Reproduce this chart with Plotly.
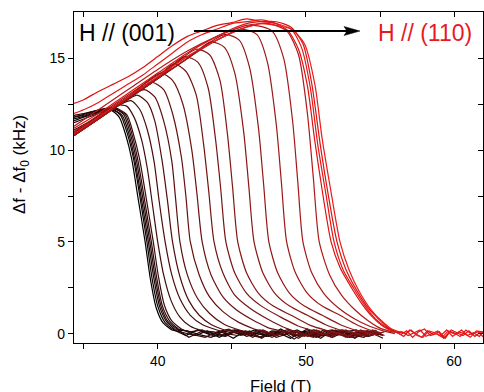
import plotly.graph_objects as go

# ---------------- data ----------------
# Each curve: key points (field in T, delta f in kHz) + baseline tail values
h01 = [34.35, 35.0, 36.0, 36.8, 37.4, 37.85, 38.25, 38.65, 39.15, 39.5, 39.9, 40.35, 40.95]
d01 = [11.7, 11.85, 12.1, 12.2, 11.8, 10.8, 9.5, 7.5, 5.0, 3.0, 1.4, 0.6, 0.2]
t01 = [0.05, -0.1, 0.15, -0.2, 0.1, -0.05, 0.2, -0.15, 0.05, -0.25, 0.1, 0.2, -0.1, 0.05, -0.2, 0.15, -0.05, 0.1]

h02 = [34.35, 35.0, 36.0, 36.9, 37.5, 37.95, 38.35, 38.77, 39.27, 39.62, 40.02, 40.5, 41.1]
d02 = [11.9, 12.0, 12.15, 12.25, 11.9, 10.9, 9.6, 7.6, 5.0, 3.0, 1.45, 0.6, 0.2]
t02 = [-0.1, 0.2, -0.05, 0.1, -0.25, 0.15, 0.0, -0.15, 0.25, -0.1, 0.05, -0.2, 0.1, 0.15, -0.05, -0.2, 0.2, -0.1]

h03 = [34.35, 35.0, 36.0, 36.9, 37.6, 38.05, 38.45, 38.87, 39.37, 39.72, 40.12, 40.6, 41.2]
d03 = [11.6, 11.8, 12.05, 12.2, 11.9, 10.9, 9.5, 7.5, 5.0, 3.1, 1.5, 0.65, 0.2]
t03 = [0.15, -0.05, -0.2, 0.1, 0.2, -0.15, 0.05, -0.1, 0.15, -0.3, 0.1, 0.0, -0.15, 0.2, -0.1, 0.05, 0.15, -0.2]

h04 = [34.35, 35.0, 36.0, 37.0, 37.7, 38.15, 38.55, 38.97, 39.47, 39.82, 40.22, 40.7, 41.3]
d04 = [11.8, 11.95, 12.2, 12.3, 11.95, 10.9, 9.5, 7.5, 5.0, 3.1, 1.5, 0.65, 0.25]
t04 = [-0.2, 0.1, 0.05, -0.15, 0.2, -0.05, -0.2, 0.15, 0.1, -0.1, 0.25, -0.15, 0.0, 0.1, -0.25, 0.15, -0.05, 0.1]

h05 = [34.35, 35.0, 36.0, 37.0, 37.8, 38.25, 38.65, 39.07, 39.57, 39.92, 40.32, 40.8, 41.4]
d05 = [11.5, 11.7, 12.0, 12.25, 11.95, 10.9, 9.5, 7.5, 5.0, 3.1, 1.5, 0.7, 0.25]
t05 = [0.1, 0.2, -0.15, 0.0, -0.1, 0.15, -0.25, 0.1, -0.05, 0.2, -0.1, 0.05, -0.2, 0.1, 0.2, -0.15, 0.05, -0.05]

h06 = [34.35, 35.0, 36.0, 37.1, 37.9, 38.35, 38.78, 39.2, 39.7, 40.05, 40.45, 40.95, 41.6]
d06 = [11.8, 11.9, 12.15, 12.3, 11.95, 10.9, 9.5, 7.5, 5.0, 3.1, 1.55, 0.7, 0.25]
t06 = [-0.05, -0.2, 0.1, 0.25, -0.1, 0.05, 0.15, -0.2, 0.0, 0.1, -0.15, 0.2, -0.05, -0.1, 0.15, 0.05, -0.25, 0.1]

h07 = [34.35, 35.5, 36.5, 37.3, 37.9, 38.4, 38.9, 39.3, 39.65, 40.0, 40.4, 40.9, 41.5, 42.2, 43.0]
d07 = [11.1, 11.6, 12.1, 12.45, 12.4, 11.8, 10.6, 9.0, 7.0, 5.0, 3.2, 1.8, 0.9, 0.4, 0.15]
t07 = [0.1, -0.15, 0.2, 0.0, -0.2, 0.1, 0.15, -0.1, 0.05, -0.25, 0.2, -0.05, 0.1, -0.15, 0.05]

h08 = [34.35, 35.5, 36.5, 37.5, 38.2, 38.8, 39.3, 39.75, 40.1, 40.5, 40.95, 41.5, 42.2, 43.0, 44.0]
d08 = [11.0, 11.5, 12.0, 12.5, 12.7, 12.2, 11.1, 9.4, 7.2, 5.0, 3.2, 1.9, 1.0, 0.5, 0.2]
t08 = [0.0, 0.15, -0.2, 0.1, -0.05, 0.25, -0.15, 0.05, -0.1, 0.2, -0.2, 0.1, 0.05, -0.1]

h09 = [34.35, 36.0, 37.5, 38.6, 39.3, 39.8, 40.3, 40.65, 41.0, 41.5, 42.1, 42.8, 43.6, 44.5]
d09 = [10.9, 11.8, 12.5, 13.0, 12.6, 11.6, 9.4, 7.3, 5.0, 3.1, 1.8, 1.0, 0.5, 0.2]
t09 = [0.1, -0.05, 0.2, -0.2, 0.05, 0.15, -0.15, 0.0, 0.2, -0.1, -0.2, 0.15, 0.05]

h10 = [34.35, 36.0, 38.0, 39.1, 39.8, 40.4, 40.95, 41.2, 41.5, 42.0, 42.7, 43.5, 44.5, 45.5]
d10 = [10.9, 11.8, 12.9, 13.3, 12.9, 11.6, 9.4, 7.4, 5.0, 3.2, 1.9, 1.1, 0.5, 0.2]
t10 = [0.05, 0.2, -0.1, 0.1, -0.25, 0.15, 0.0, -0.1, 0.2, -0.15, 0.1, -0.05]

h11 = [34.35, 36.0, 38.0, 39.6, 40.4, 41.0, 41.6, 41.9, 42.2, 42.8, 43.5, 44.4, 45.5, 46.5]
d11 = [10.9, 11.8, 12.9, 13.7, 13.3, 12.0, 9.6, 7.5, 5.0, 3.2, 2.0, 1.2, 0.6, 0.25]
t11 = [0.1, -0.1, 0.2, 0.0, -0.2, 0.15, -0.05, 0.1, -0.15, 0.2, -0.1]

h12 = [34.35, 36.0, 38.0, 40.2, 41.0, 41.7, 42.3, 42.65, 43.0, 43.6, 44.4, 45.3, 46.5, 47.5]
d12 = [10.9, 11.8, 12.9, 14.2, 13.8, 12.5, 10.0, 7.6, 5.0, 3.2, 2.0, 1.3, 0.7, 0.3]
t12 = [0.15, 0.0, -0.15, 0.2, -0.1, 0.05, -0.2, 0.15, 0.1, -0.05]

h13 = [34.35, 36.0, 38.0, 40.0, 41.1, 41.9, 42.6, 43.1, 43.45, 43.8, 44.4, 45.2, 46.2, 47.4, 48.5]
d13 = [10.9, 11.8, 12.9, 14.0, 14.7, 14.3, 13.0, 10.3, 7.7, 5.0, 3.3, 2.1, 1.4, 0.8, 0.35]
t13 = [0.1, -0.1, 0.15, -0.2, 0.2, 0.0, -0.15, 0.1, 0.05]

h14 = [34.35, 36.0, 38.0, 40.0, 41.8, 42.7, 43.4, 43.9, 44.25, 44.6, 45.2, 46.0, 47.0, 48.3, 49.5]
d14 = [10.8, 11.7, 12.8, 13.9, 15.1, 14.8, 13.4, 10.6, 7.9, 5.0, 3.3, 2.2, 1.5, 0.9, 0.4]
t14 = [0.2, -0.05, 0.1, -0.2, 0.15, -0.1, 0.05, 0.1]

h15 = [34.35, 36.0, 38.0, 40.0, 42.6, 43.5, 44.2, 44.7, 45.05, 45.4, 46.0, 46.8, 47.8, 49.0, 50.3, 51.3]
d15 = [10.8, 11.7, 12.8, 13.9, 15.5, 15.2, 13.8, 10.9, 8.0, 5.0, 3.3, 2.2, 1.5, 1.0, 0.45, 0.2]
t15 = [0.05, -0.15, 0.2, -0.05, 0.1, -0.1]

h16 = [34.35, 36.0, 38.0, 40.0, 42.0, 43.6, 44.5, 45.2, 45.8, 46.15, 46.5, 47.1, 47.9, 48.9, 50.1, 51.3, 52.3]
d16 = [10.8, 11.7, 12.8, 13.9, 15.0, 15.9, 15.6, 14.2, 11.0, 8.0, 5.0, 3.3, 2.2, 1.5, 1.0, 0.5, 0.2]
t16 = [0.1, -0.1, 0.15, -0.05, 0.05]

h17 = [34.35, 36.0, 38.0, 40.0, 42.0, 44.5, 45.5, 46.2, 46.8, 47.15, 47.5, 48.1, 48.9, 49.9, 51.1, 52.3, 53.3]
d17 = [10.8, 11.7, 12.8, 13.9, 15.0, 16.3, 16.0, 14.5, 11.2, 8.1, 5.0, 3.3, 2.2, 1.5, 1.0, 0.5, 0.2]
t17 = [0.05, -0.1, 0.15, 0.0]

h18 = [34.35, 36.0, 38.0, 40.0, 42.0, 44.0, 45.6, 46.7, 47.4, 48.0, 48.35, 48.7, 49.3, 50.1, 51.1, 52.3, 53.4, 54.3]
d18 = [10.8, 11.7, 12.8, 13.9, 15.0, 16.0, 16.6, 16.3, 14.8, 11.4, 8.2, 5.0, 3.3, 2.2, 1.5, 1.0, 0.5, 0.2]
t18 = [0.05, -0.1, 0.1]

h19 = [34.35, 36.0, 38.0, 40.0, 42.0, 44.0, 46.4, 47.7, 48.5, 49.1, 49.45, 49.8, 50.4, 51.2, 52.2, 53.3, 54.3, 55.2]
d19 = [11.0, 11.9, 13.0, 14.1, 15.1, 16.0, 16.8, 16.5, 15.0, 11.6, 8.3, 5.0, 3.3, 2.2, 1.4, 0.8, 0.4, 0.15]
t19 = [0.0, 0.1, -0.05]

h20 = [34.35, 36.0, 38.0, 40.0, 42.0, 44.0, 46.0, 47.5, 48.7, 49.5, 50.1, 50.5, 50.9, 51.6, 52.4, 53.3, 54.2, 55.0, 55.8]
d20 = [11.3, 12.2, 13.3, 14.4, 15.4, 16.2, 16.8, 16.9, 16.5, 15.2, 12.0, 8.5, 5.0, 3.2, 2.1, 1.3, 0.7, 0.3, 0.1]
t20 = [0.05, -0.1]

h21 = [34.35, 35.0, 36.0, 37.0, 38.0, 39.0, 40.0, 41.0, 42.0, 43.0, 44.0, 45.0, 46.0, 47.0, 48.0, 48.8, 49.5, 50.1, 50.6, 51.1, 51.7, 52.3, 53.0, 53.8, 54.5, 55.2, 55.8]
d21 = [12.55, 12.75, 13.2, 13.6, 14.0, 14.5, 15.1, 15.7, 16.2, 16.5, 16.8, 16.95, 17.15, 17.0, 16.9, 16.5, 15.5, 13.5, 10.5, 7.8, 5.0, 3.6, 2.6, 1.6, 0.9, 0.4, 0.15]
t21 = [0.05, -0.15, 0.2, 0.0, -0.2, 0.15, -0.05, 0.1, -0.25, 0.2, 0.05, -0.1, 0.15, -0.15, 0.1, 0.0, -0.1]

h22 = [34.35, 35.0, 36.0, 37.0, 38.0, 39.0, 40.0, 41.0, 42.0, 43.0, 44.0, 45.0, 46.0, 47.0, 48.0, 49.0, 49.7, 50.3, 50.8, 51.35, 51.9, 52.5, 53.2, 54.0, 54.7, 55.4, 56.0]
d22 = [12.0, 12.2, 12.6, 13.1, 13.6, 14.1, 14.7, 15.3, 15.9, 16.3, 16.6, 16.9, 17.0, 17.1, 16.9, 16.6, 15.6, 13.4, 10.3, 7.6, 5.0, 3.5, 2.5, 1.5, 0.8, 0.35, 0.1]
t22 = [-0.05, 0.15, -0.2, 0.1, 0.25, -0.1, 0.0, -0.2, 0.15, 0.05, -0.15, 0.2, -0.05, 0.1, -0.2, 0.15, 0.05]

h23 = [34.35, 36.0, 38.0, 40.0, 42.0, 44.0, 45.0, 46.0, 47.0, 48.0, 49.0, 49.8, 50.4, 50.95, 51.5, 52.1, 52.7, 53.4, 54.2, 54.9, 55.5, 56.1]
d23 = [11.2, 12.0, 13.1, 14.2, 15.3, 16.2, 16.6, 16.9, 17.0, 17.0, 16.7, 15.8, 13.6, 10.4, 7.6, 5.0, 3.5, 2.4, 1.4, 0.8, 0.35, 0.1]
t23 = [0.1, -0.1, 0.05, 0.2, -0.15, 0.0, 0.15, -0.25, 0.1, -0.05, 0.2, -0.1, 0.05, -0.15, 0.2, 0.0, -0.1]

h24 = [34.35, 36.0, 38.0, 40.0, 42.0, 44.0, 45.0, 46.0, 47.0, 48.0, 49.0, 49.9, 50.6, 51.1, 51.7, 52.3, 52.9, 53.6, 54.4, 55.1, 55.7, 56.3]
d24 = [10.9, 11.8, 12.9, 14.0, 15.1, 16.0, 16.4, 16.7, 16.9, 16.8, 16.6, 15.8, 13.6, 10.6, 7.7, 5.0, 3.5, 2.3, 1.3, 0.7, 0.3, 0.1]
t24 = [0.0, 0.2, -0.1, -0.2, 0.15, 0.05, -0.1, 0.2, -0.15, 0.1, 0.0, -0.2, 0.15, 0.1, -0.05, 0.2, -0.1]

# last field reached by each sweep
end_field = [55.3] * 18 + [56.0, 56.8, 62.3, 62.3, 62.3, 62.3]

x_ticks = [40, 50, 60]
y_ticks = [0, 5, 10, 15]

# ---------------- styling ----------------
colors = ["#000000", "#0d0202", "#1a0404", "#240606", "#2e0808", "#380a0a",
          "#420b0b", "#4a0c0c", "#520d0d", "#5a0f0f", "#621010", "#6a1212",
          "#721313", "#7a1414", "#821515", "#8a1616", "#921717", "#9a1818",
          "#a41818", "#b01818", "#e01010", "#e81515", "#d81515", "#f01818"]

curves = [(h01, d01, t01), (h02, d02, t02), (h03, d03, t03), (h04, d04, t04),
          (h05, d05, t05), (h06, d06, t06), (h07, d07, t07), (h08, d08, t08),
          (h09, d09, t09), (h10, d10, t10), (h11, d11, t11), (h12, d12, t12),
          (h13, d13, t13), (h14, d14, t14), (h15, d15, t15), (h16, d16, t16),
          (h17, d17, t17), (h18, d18, t18), (h19, d19, t19), (h20, d20, t20),
          (h21, d21, t21), (h22, d22, t22), (h23, d23, t23), (h24, d24, t24)]

fig = go.Figure()
for (h, d, t), col, hend in zip(curves, colors, end_field):
    step = 0.4 if hend > 60 else 0.8
    # smooth body of the sweep
    fig.add_trace(go.Scatter(x=h, y=d, mode="lines",
                             line=dict(color=col, width=1.2, shape="spline", smoothing=0.7),
                             showlegend=False, hoverinfo="skip"))
    # noisy baseline
    xs, ys = [h[-1]], [d[-1]]
    xi = h[-1]
    for v in t:
        xi += step
        if xi > hend:
            break
        xs.append(round(xi, 3))
        ys.append(v)
    fig.add_trace(go.Scatter(x=xs, y=ys, mode="lines",
                             line=dict(color=col, width=1.2),
                             showlegend=False, hoverinfo="skip"))

# dummy trace for the mirrored (inside-tick) axes
fig.add_trace(go.Scatter(x=[40], y=[5], xaxis="x2", yaxis="y2", mode="markers",
                         marker=dict(opacity=0), showlegend=False, hoverinfo="skip"))

XR = [34.35, 61.95]
YR = [-0.51, 17.53]
L, R, T, B = 74, 483, 12, 343


def px(xp):
    return (xp - L) / (R - L)


def py(yp):
    return (B - yp) / (B - T)


axis_common = dict(showline=True, linecolor="black", linewidth=1.2, showgrid=False,
                   zeroline=False, tickcolor="black", tickwidth=1.2)

fig.update_layout(
    width=484, height=392,
    margin=dict(l=L, r=484 - R, t=T, b=392 - B),
    paper_bgcolor="white", plot_bgcolor="white",
    font=dict(family="Liberation Sans, Arial, sans-serif", color="black"),
    xaxis=dict(range=XR, tickmode="array", tickvals=x_ticks, ticks="outside", ticklen=5,
               tickfont=dict(size=14),
               minor=dict(tickvals=[35, 45, 55], ticks="outside", ticklen=5,
                          tickwidth=1.2, tickcolor="black"),
               **axis_common),
    yaxis=dict(range=YR, tickmode="array", tickvals=y_ticks, ticks="outside", ticklen=5,
               tickfont=dict(size=14),
               minor=dict(tickvals=[2.5, 7.5, 12.5], ticks="outside", ticklen=5,
                          tickwidth=1.2, tickcolor="black"),
               **axis_common),
    xaxis2=dict(range=XR, overlaying="x", side="top", tickmode="array",
                tickvals=[35, 40, 45, 50, 55, 60], ticks="inside", ticklen=5,
                showticklabels=False, **axis_common),
    yaxis2=dict(range=YR, overlaying="y", side="right", tickmode="array",
                tickvals=[0, 2.5, 5, 7.5, 10, 12.5, 15, 17.5], ticks="inside", ticklen=5,
                showticklabels=False, **axis_common),
)

# text annotations
fig.add_annotation(text="H // (001)", xref="paper", yref="paper", x=px(77), y=py(33),
                   xanchor="left", yanchor="middle", showarrow=False,
                   font=dict(size=23, color="black"))
fig.add_annotation(text="H // (110)", xref="paper", yref="paper", x=px(376), y=py(33),
                   xanchor="left", yanchor="middle", showarrow=False,
                   font=dict(size=23, color="#e8191e"))
fig.add_annotation(text="Field (T)", xref="paper", yref="paper", x=px(280), y=py(386),
                   xanchor="center", yanchor="middle", showarrow=False,
                   font=dict(size=16.5))
fig.add_annotation(text="Δf - Δf<sub>0</sub> (kHz)", xref="paper", yref="paper",
                   x=px(21), y=py(165), xanchor="center", yanchor="middle",
                   textangle=-90, showarrow=False, font=dict(size=17))

# arrow
fig.add_shape(type="line", xref="paper", yref="paper", x0=px(194), y0=py(31),
              x1=px(348), y1=py(31), line=dict(color="black", width=2))
fig.add_shape(type="path", xref="paper", yref="paper",
              path=f"M {px(360)},{py(31)} L {px(344)},{py(26.5)} L {px(347)},{py(31)} "
                   f"L {px(344)},{py(35.5)} Z",
              fillcolor="black", line=dict(color="black", width=0.5))

fig.write_html("out.html", config={"displayModeBar": False},
               post_script="document.body.style.margin='0px';")
